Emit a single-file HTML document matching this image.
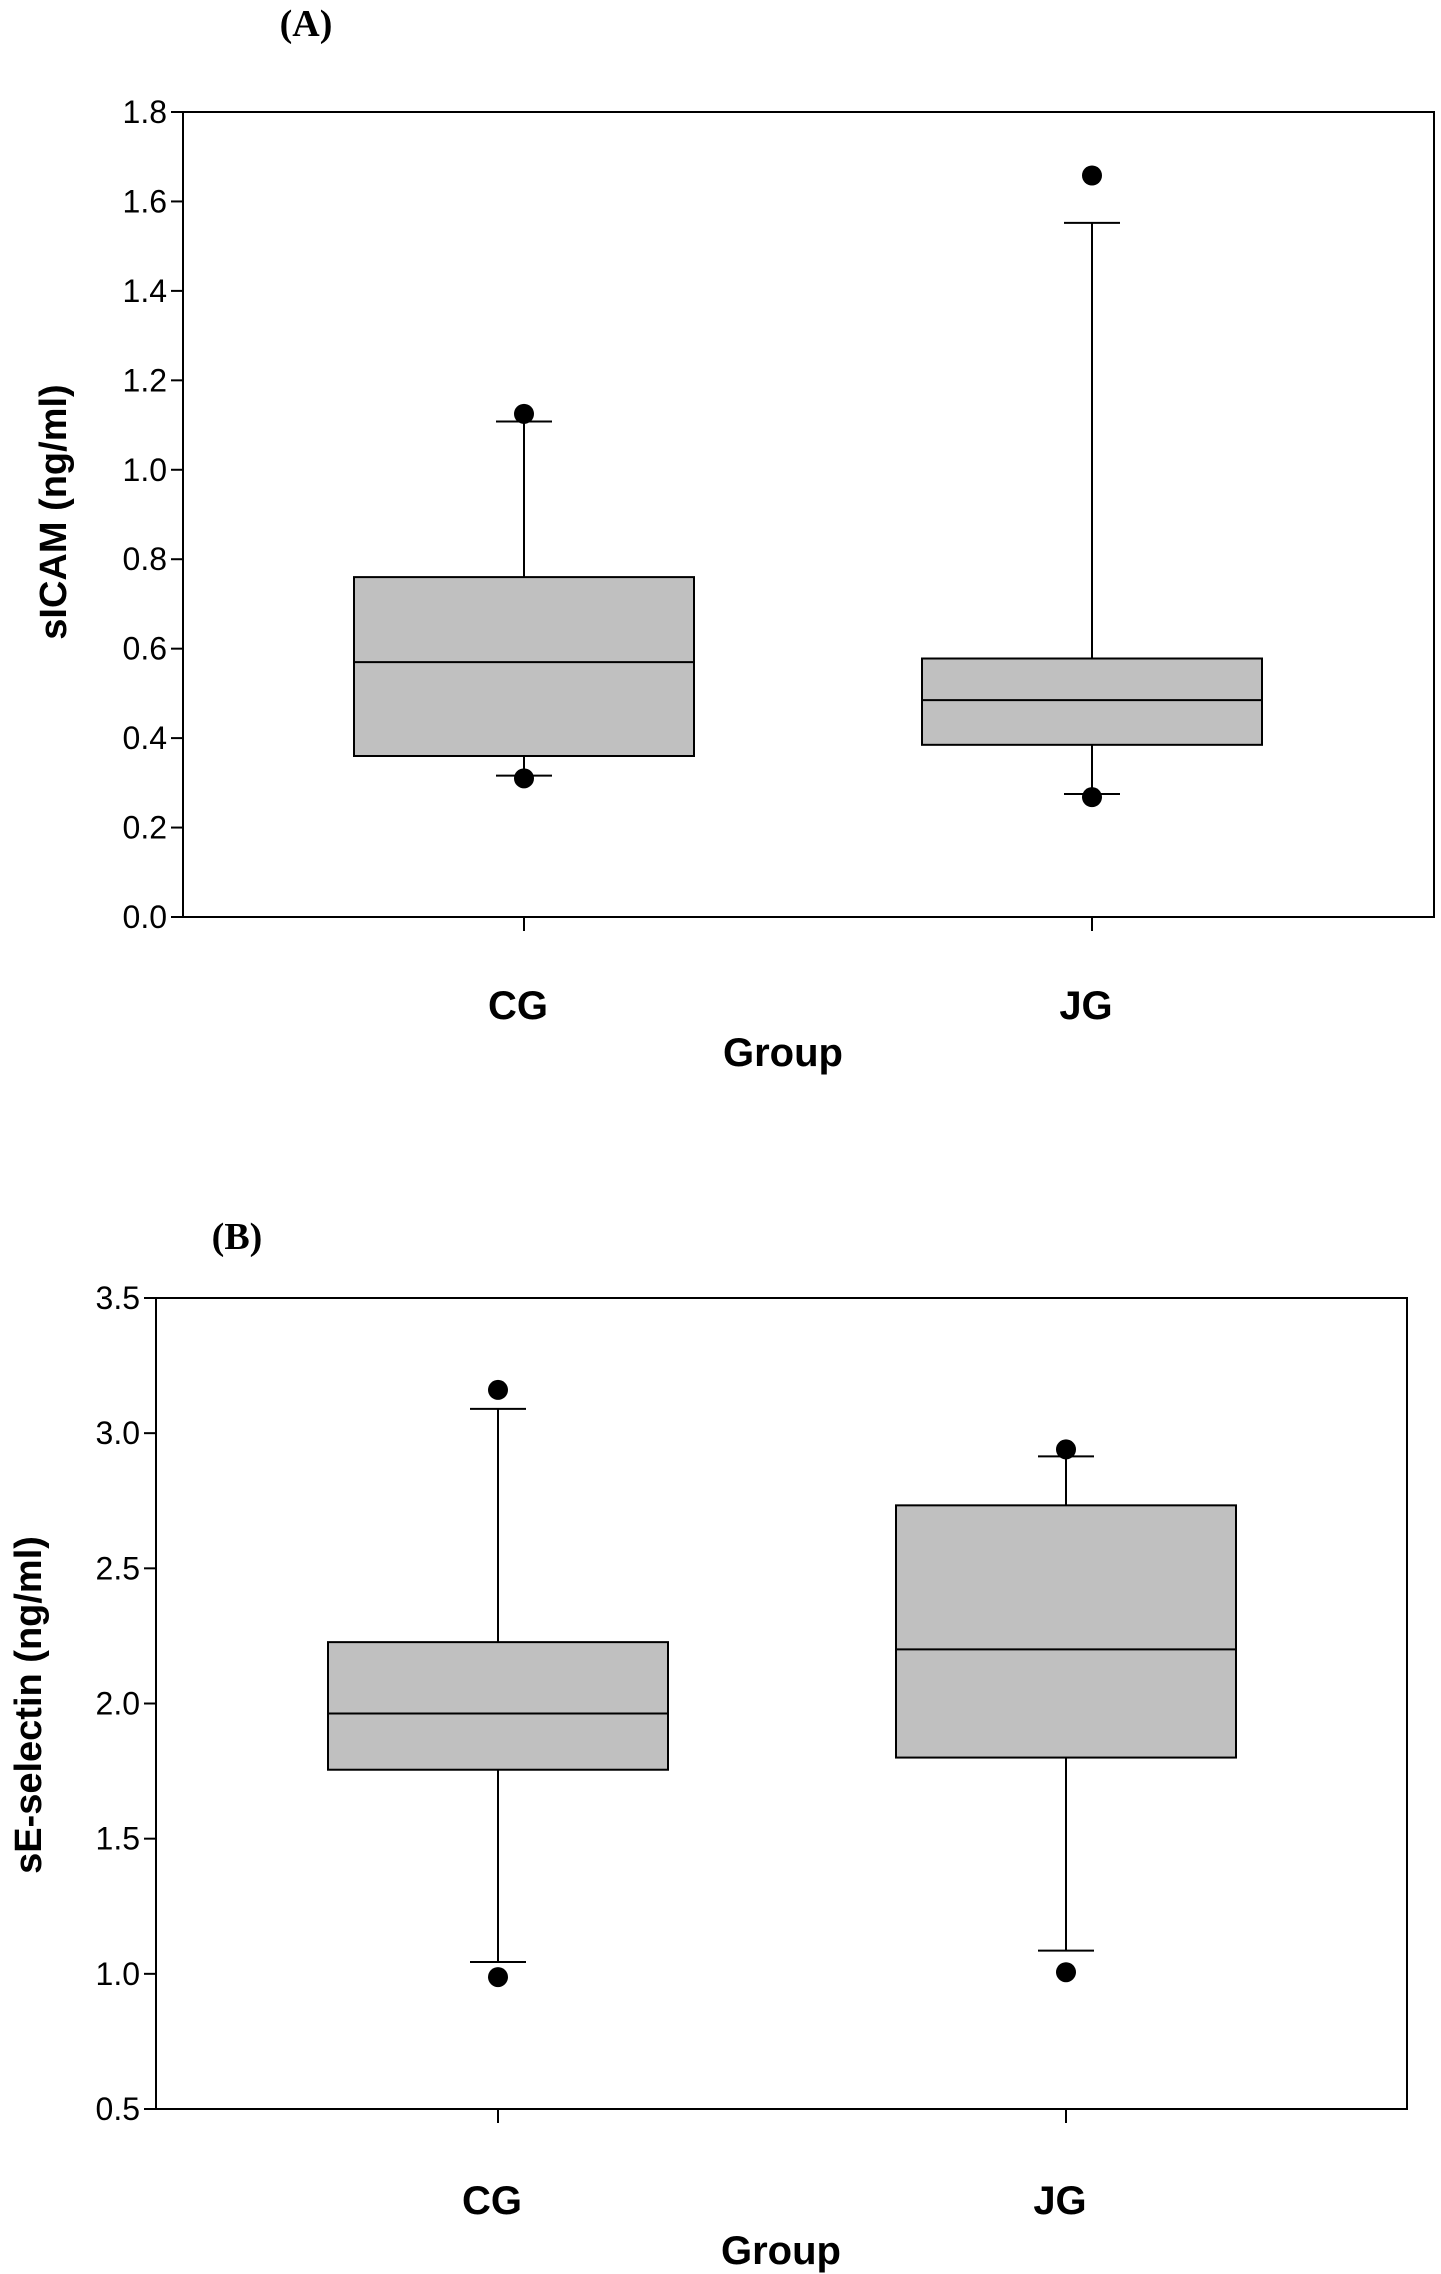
<!DOCTYPE html>
<html><head><meta charset="utf-8"><style>
html,body{margin:0;padding:0;background:#fff;}
svg{display:block;}
</style></head><body>
<svg id="fig" width="1441" height="2274" xmlns="http://www.w3.org/2000/svg"></svg>
<script>
const groups = ["CG", "JG"];
// Panel A: sICAM
const aQ1 = [0.36, 0.385];
const aMedian = [0.57, 0.485];
const aQ3 = [0.76, 0.578];
const aWhiskerLow = [0.316, 0.275];
const aWhiskerHigh = [1.108, 1.552];
const aOutlierLow = [0.31, 0.268];
const aOutlierHigh = [1.125, 1.658];
const aTicks = ["0.0","0.2","0.4","0.6","0.8","1.0","1.2","1.4","1.6","1.8"];
// Panel B: sE-selectin
const bQ1 = [1.755, 1.8];
const bMedian = [1.963, 2.2];
const bQ3 = [2.227, 2.733];
const bWhiskerLow = [1.044, 1.086];
const bWhiskerHigh = [3.09, 2.914];
const bOutlierLow = [0.988, 1.006];
const bOutlierHigh = [3.16, 2.94];
const bTicks = ["0.5","1.0","1.5","2.0","2.5","3.0","3.5"];

const NS = "http://www.w3.org/2000/svg";
const svg = document.getElementById("fig");
function mk(tag, attrs, parent, text) {
  const e = document.createElementNS(NS, tag);
  for (const k in attrs) e.setAttribute(k, attrs[k]);
  if (text !== undefined) e.textContent = text;
  (parent || svg).appendChild(e);
  return e;
}

function panel(cfg) {
  const g = mk("g", {});
  
  
  const {L, R, T, B, ymin, ymax} = cfg;
  const y = v => B - (v - ymin) / (ymax - ymin) * (B - T);
  const x = i => cfg.centers[0] + i * (cfg.centers[1] - cfg.centers[0]);
  const halfBox = cfg.boxW / 2, halfCap = 28;

  const frame = mk("rect", {x: L, y: T, width: R - L, height: B - T, fill: "none", stroke: "#000", "stroke-width": 2}, g);
  
  

  cfg.ticks.forEach(t => {
    const v = parseFloat(t);
    const tk = mk("line", {x1: L - 12, x2: L, y1: y(v), y2: y(v), stroke: "#000", "stroke-width": 2}, g);
    
    
    const lb = mk("text", {x: L - 16, y: y(v) + 11, "text-anchor": "end", "font-family": "Liberation Sans, sans-serif", "font-size": 32}, g, t);
    
    
  });

  groups.forEach((name, i) => {
    const cx = x(i);
    const tk = mk("line", {x1: cx, x2: cx, y1: B, y2: B + 14, stroke: "#000", "stroke-width": 2}, g);
    
    
    const lb = mk("text", {x: cx - 6, y: cfg.catY + 14, "text-anchor": "middle", "font-family": "Liberation Sans, sans-serif", "font-size": 40, "font-weight": "bold"}, g, name);
    
    

    const wh = mk("line", {x1: cx, x2: cx, y1: y(cfg.wl[i]), y2: y(cfg.wh[i]), stroke: "#000", "stroke-width": 2}, g);
    
    
    [cfg.wl[i], cfg.wh[i]].forEach(v => {
      const c = mk("line", {x1: cx - halfCap, x2: cx + halfCap, y1: y(v), y2: y(v), stroke: "#000", "stroke-width": 2}, g);
      
      
    });
    const bx = mk("rect", {x: cx - halfBox, y: y(cfg.q3[i]), width: cfg.boxW, height: y(cfg.q1[i]) - y(cfg.q3[i]), fill: "#c0c0c0", stroke: "#000", "stroke-width": 2}, g);
    
    
    const md = mk("line", {x1: cx - halfBox, x2: cx + halfBox, y1: y(cfg.med[i]), y2: y(cfg.med[i]), stroke: "#000", "stroke-width": 2}, g);
    
    
    [cfg.ol[i], cfg.oh[i]].forEach(v => {
      const d = mk("circle", {cx: cx, cy: y(v), r: 10, fill: "#000"}, g);
      
      
    });
  });

  const xt = mk("text", {x: cfg.groupX, y: cfg.groupY + 14, "text-anchor": "middle", "font-family": "Liberation Sans, sans-serif", "font-size": 40, "font-weight": "bold"}, g, "Group");
  
  
  const yt = mk("text", {x: 0, y: 0, transform: `translate(${cfg.ytX + 13},${cfg.ytY}) rotate(-90)`, "text-anchor": "middle", "font-family": "Liberation Sans, sans-serif", "font-size": 38, "font-weight": "bold"}, g, cfg.ytitle);
  
  
  const pl = mk("text", {x: cfg.plX, y: cfg.plY + 13, "text-anchor": "middle", "font-family": "Liberation Serif, serif", "font-size": 38, "font-weight": "bold"}, g, cfg.label);
  
  
}

panel({name: "panel-a-sicam", L: 183, R: 1434, T: 112, B: 917, ymin: 0, ymax: 1.8,
  centers: [524, 1092], boxW: 340, ticks: aTicks,
  q1: aQ1, med: aMedian, q3: aQ3, wl: aWhiskerLow, wh: aWhiskerHigh, ol: aOutlierLow, oh: aOutlierHigh,
  catY: 1005, groupX: 783, groupY: 1052, ytX: 53, ytY: 512, ytitle: "sICAM (ng/ml)", plX: 306, plY: 23, label: "(A)"});

panel({name: "panel-b-se-selectin", L: 156, R: 1407, T: 1298, B: 2109, ymin: 0.5, ymax: 3.5,
  centers: [498, 1066], boxW: 340, ticks: bTicks,
  q1: bQ1, med: bMedian, q3: bQ3, wl: bWhiskerLow, wh: bWhiskerHigh, ol: bOutlierLow, oh: bOutlierHigh,
  catY: 2200, groupX: 781, groupY: 2250, ytX: 28, ytY: 1705, ytitle: "sE-selectin (ng/ml)", plX: 237, plY: 1236, label: "(B)"});
</script>
</body></html>
